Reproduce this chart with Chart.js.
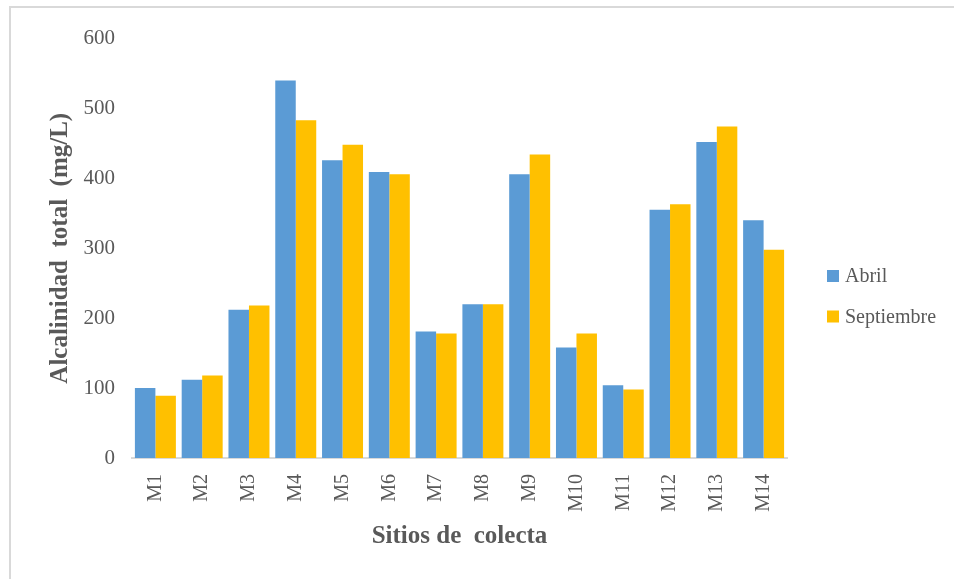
<!DOCTYPE html>
<html>
<head>
<meta charset="utf-8">
<script src="https://cdn.jsdelivr.net/npm/chart.js@4.4.1/dist/chart.umd.min.js"></script>
<style>
  html, body { margin: 0; padding: 0; background: #ffffff; }
  #wrap { position: relative; width: 954px; height: 579px; }
</style>
</head>
<body>
<div id="wrap"><canvas id="chart" width="954" height="579"></canvas></div>
<script>
// Sampling sites and total alkalinity (mg/L) per campaign
const sitios = ['M1', 'M2', 'M3', 'M4', 'M5', 'M6', 'M7', 'M8', 'M9', 'M10', 'M11', 'M12', 'M13', 'M14'];
const abril = [100, 112, 212, 540, 426, 409, 181, 220, 406, 158, 104, 355, 452, 340];
const septiembre = [89, 118, 218, 483, 448, 406, 178, 220, 434, 178, 98, 363, 474, 298];
const yTicks = [0, 100, 200, 300, 400, 500, 600];

const textColor = '#595959';
const serif = "'Liberation Serif', 'Times New Roman', serif";

// Light frame around the chart
const framePlugin = {
  id: 'frame',
  beforeDraw(chart) {
    const ctx = chart.ctx;
    ctx.save();
    ctx.fillStyle = '#ffffff';
    ctx.fillRect(0, 0, chart.width, chart.height);
    ctx.strokeStyle = '#d9d9d9';
    ctx.lineWidth = 2;
    ctx.beginPath();
    ctx.moveTo(10, chart.height);
    ctx.lineTo(10, 7);
    ctx.lineTo(chart.width, 7);
    ctx.stroke();
    ctx.restore();
  }
};

// Legend to the right of the plot, built from the datasets
const sideLegend = {
  id: 'sideLegend',
  afterDraw(chart) {
    const ctx = chart.ctx;
    ctx.save();
    ctx.font = '20px ' + serif;
    ctx.textBaseline = 'middle';
    ctx.textAlign = 'left';
    chart.data.datasets.forEach((ds, i) => {
      const cy = 276 + i * 40.5;
      ctx.fillStyle = ds.backgroundColor;
      ctx.fillRect(827, cy - 6, 12, 12);
      ctx.fillStyle = textColor;
      ctx.fillText(ds.label, 845, cy + 1);
    });
    ctx.restore();
  }
};

new Chart(document.getElementById('chart'), {
  type: 'bar',
  data: {
    labels: sitios,
    datasets: [
      { label: 'Abril', data: abril, backgroundColor: '#5B9BD5', borderWidth: 0,
        categoryPercentage: 0.876, barPercentage: 1.0 },
      { label: 'Septiembre', data: septiembre, backgroundColor: '#FFC000', borderWidth: 0,
        categoryPercentage: 0.876, barPercentage: 1.0 }
    ]
  },
  options: {
    responsive: false,
    animation: false,
    devicePixelRatio: 1,
    layout: { padding: { left: 10, top: 38.5, right: 167, bottom: 0 } },
    plugins: {
      legend: { display: false },
      tooltip: { enabled: false }
    },
    scales: {
      x: {
        grid: { display: false, drawTicks: false },
        border: { display: true, color: '#d9d9d9', width: 2 },
        ticks: {
          color: textColor,
          font: { family: serif, size: 20 },
          minRotation: 90,
          maxRotation: 90,
          padding: 16,
          autoSkip: false
        },
        title: {
          display: true,
          text: 'Sitios de  colecta',
          color: textColor,
          font: { family: serif, size: 25, weight: 'bold' },
          padding: { top: 0, bottom: 27 }
        },
        afterFit(scale) { scale.height = 121; }
      },
      y: {
        min: 0,
        max: 600,
        grid: { display: false, drawTicks: false },
        border: { display: false },
        afterBuildTicks(scale) { scale.ticks = yTicks.map(v => ({ value: v })); },
        ticks: {
          color: textColor,
          font: { family: serif, size: 21 },
          padding: 17
        },
        title: {
          display: true,
          text: 'Alcalinidad  total  (mg/L)',
          color: textColor,
          font: { family: serif, size: 25, weight: 'bold' },
          padding: { top: 36, bottom: 0 }
        },
        afterFit(scale) { scale.width = 122; }
      }
    }
  },
  plugins: [framePlugin, sideLegend]
});
</script>
</body>
</html>
